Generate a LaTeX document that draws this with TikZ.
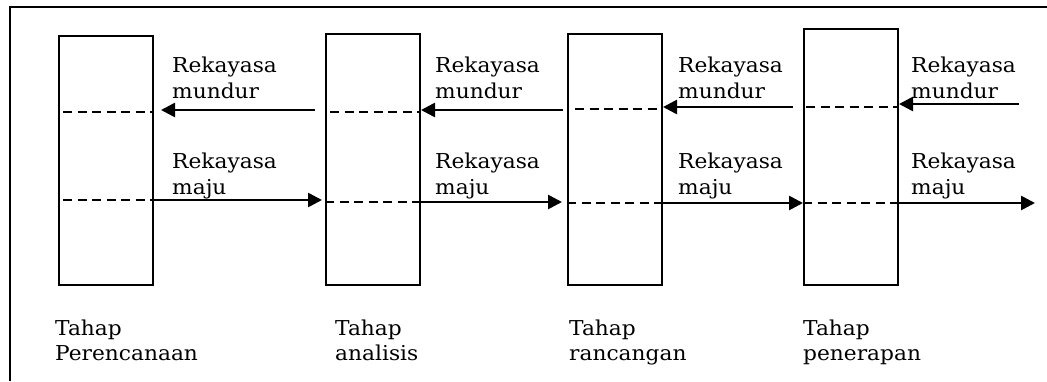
\documentclass[tikz,border=0pt]{standalone}
\usepackage{fontspec}
\setmainfont{DejaVu Serif}[FakeStretch=1.06]
\usetikzlibrary{arrows.meta,calc}
\begin{document}
\begin{tikzpicture}[x=1pt,y=-1pt,
  stage/.style={draw,line width=2pt,minimum width=94pt,minimum height=#1,inner sep=0pt,anchor=north west},
  levelline/.style={line width=1.6pt,dash pattern=on 9pt off 5.5pt},
  flow/.style={line width=2.6pt,-{Triangle[length=14pt,width=14pt]}},
  lbl/.style={align=left,anchor=base west,inner sep=0pt,font=\fontsize{20.5}{26}\selectfont},
  stagename/.style={lbl,font=\fontsize{20.5}{25}\selectfont}]
\useasboundingbox (0,0) rectangle (1047,381);
% frame
\draw[line width=2pt] (10,381) -- (10,7) -- (1047,7);
% stage boxes
\node[stage=249pt] (b1) at (58,35) {};
\node[stage=251pt] (b2) at (325,33) {};
\node[stage=251pt] (b3) at (567,33) {};
\node[stage=256pt] (b4) at (803,28) {};
% levels of the two flows
\coordinate (m1) at (0,111);
\coordinate (m2) at (0,110);
\coordinate (m3) at (0,107);
\coordinate (m4) at (0,105);
\coordinate (j1) at (0,200);
\coordinate (j2) at (0,202);
\coordinate (j3) at (0,203);
\coordinate (j4) at (0,203);
% dashed levels inside the boxes
\draw[levelline] ($(b1.west |- m1)+(5,1)$) -- ($(b1.east |- m1)+(0,1)$);
\draw[levelline] ($(b1.west |- j1)+(5,0)$) -- (b1.east |- j1);
\draw[levelline] ($(b2.west |- m2)+(5,2)$) -- ($(b2.east |- m2)+(0,2)$);
\draw[levelline] (b2.west |- j2) -- (b2.east |- j2);
\draw[levelline] ($(b3.west |- m3)+(8,2)$) -- ($(b3.east |- m3)+(0,2)$);
\draw[levelline] (b3.west |- j3) -- (b3.east |- j3);
\draw[levelline] ($(b4.west |- m4)+(3,2)$) -- ($(b4.east |- m4)+(0,2)$);
\draw[levelline] (b4.west |- j4) -- (b4.east |- j4);
% backward flow
\coordinate (e4) at (1019,104);
\draw[flow] ($(b2.west |- m1)+(-10,-1)$) -- ($(b1.east |- m1)+(7,-1)$);
\draw[flow] ($(b3.west |- m2)+(-4,0)$) -- (b2.east |- m2);
\draw[flow] ($(b4.west |- m3)+(-10,0)$) -- (b3.east |- m3);
\draw[flow] (e4) -- (b4.east |- e4);
% forward flow
\coordinate (e5) at (1035,203);
\draw[flow] (b1.east |- j1) -- ($(b2.west |- j1)+(-3,0)$);
\draw[flow] (b2.east |- j2) -- ($(b3.west |- j2)+(-5,0)$);
\draw[flow] (b3.east |- j3) -- (b4.west |- j3);
\draw[flow] (b4.east |- j4) -- (e5);
% flow labels (anchored at the baseline of the last line)
\foreach \x/\n in {172/1,435/2,678/3,911/4}{
  \node[lbl] (rm\n) at (\x,98) {Rekayasa\\mundur};
  \node[lbl] (rj\n) at (\x,194) {Rekayasa\\maju};
}
% stage names
\node[stagename] (t1) at (55,360) {Tahap\\Perencanaan};
\node[stagename] (t2) at (335,360) {Tahap\\analisis};
\node[stagename] (t3) at (569,360) {Tahap\\rancangan};
\node[stagename] (t4) at (803,360) {Tahap\\penerapan};
\end{tikzpicture}
\end{document}
